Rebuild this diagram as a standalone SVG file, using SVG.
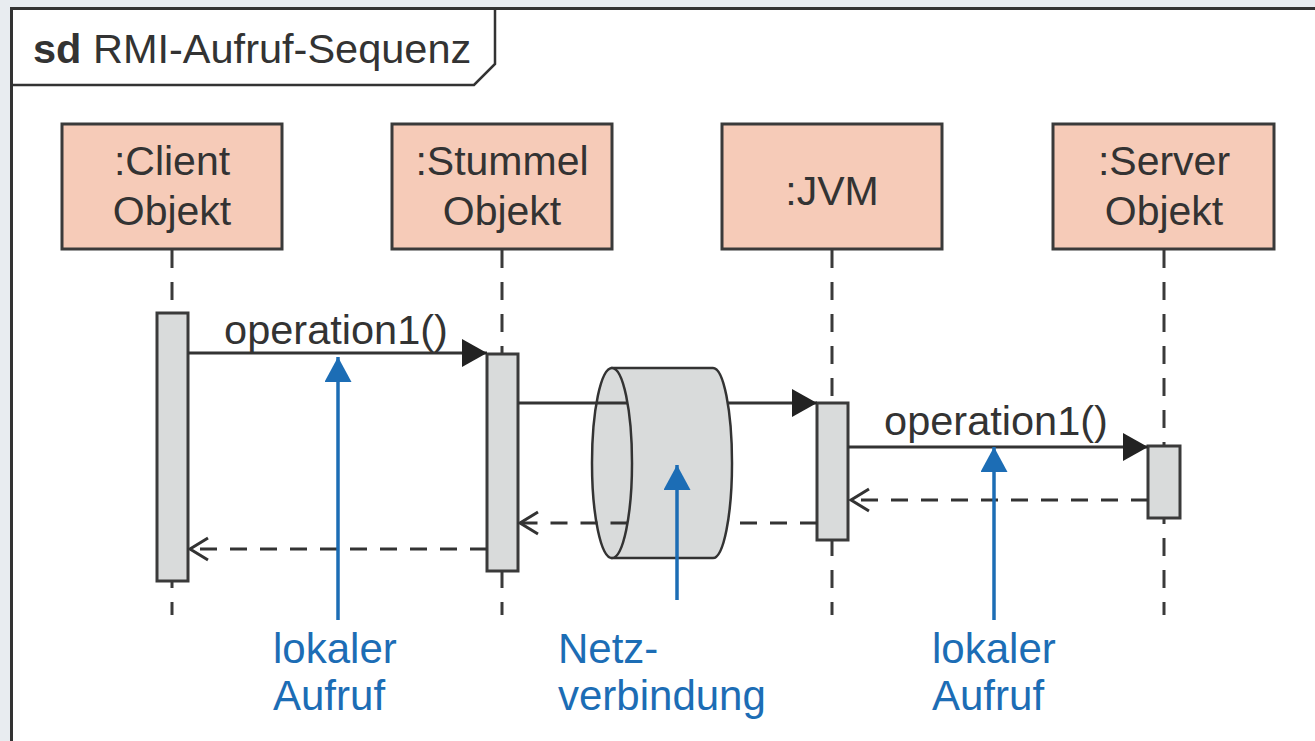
<svg xmlns="http://www.w3.org/2000/svg" width="1315" height="741" viewBox="0 0 1315 741">
  <style>
    .txt { font-family: "Liberation Sans", Arial, sans-serif; fill: #333; }
    .head { fill: #f6cbb8; stroke: #3a3a3a; stroke-width: 3; }
    .act { fill: #d9dbdb; stroke: #3a3a3a; stroke-width: 3; }
    .life { stroke: #3a3a3a; stroke-width: 3; stroke-dasharray: 18 14; fill: none; }
    .msg { stroke: #333; stroke-width: 2.8; fill: none; }
    .ret { stroke: #333; stroke-width: 2.8; fill: none; stroke-dasharray: 17 13; }
    .note { stroke: #1c6db5; stroke-width: 3.5; fill: none; }
    .blue { font-family: "Liberation Sans", Arial, sans-serif; fill: #1c6db5; font-size: 42px; }
  </style>
  <defs>
    <marker id="filled" markerUnits="userSpaceOnUse" markerWidth="26" markerHeight="30" refX="25" refY="14" orient="auto">
      <path d="M0,0 L25,14 L0,28 Z" fill="#222"/>
    </marker>
    <marker id="open" markerUnits="userSpaceOnUse" markerWidth="24" markerHeight="28" refX="19" refY="13" orient="auto">
      <path d="M1,2 L19,13 L1,24" fill="none" stroke="#333" stroke-width="3"/>
    </marker>
    <marker id="bluehead" markerUnits="userSpaceOnUse" markerWidth="28" markerHeight="28" refX="25" refY="13.5" orient="auto">
      <path d="M0,0 L25,13.5 L0,27 Z" fill="#1c6db5"/>
    </marker>
  </defs>

  <!-- page background and frame -->
  <rect x="0" y="0" width="1315" height="741" fill="#e8ecf0"/>
  <rect x="11.5" y="8.5" width="1320" height="745" fill="#ffffff" stroke="#333" stroke-width="3"/>
  <g id="frame-label">
    <path d="M11.5,85 L474,85 L495,64 L495,8.5" fill="none" stroke="#333" stroke-width="2.5"/>
    <text class="txt" x="33" y="63" font-size="41.5"><tspan font-weight="bold">sd</tspan> RMI-Aufruf-Sequenz</text>
  </g>

  <!-- lifelines -->
  <g id="lifelines">
    <line class="life" x1="172" y1="250" x2="172" y2="615"/>
    <line class="life" x1="502" y1="250" x2="502" y2="615"/>
    <line class="life" x1="832" y1="250" x2="832" y2="615"/>
    <line class="life" x1="1164" y1="250" x2="1164" y2="615"/>
  </g>

  <g id="client">
    <rect class="head" x="62" y="124" width="220" height="125"/>
    <text class="txt" x="172" y="175" font-size="41" text-anchor="middle">:Client</text>
    <text class="txt" x="172" y="225" font-size="41" text-anchor="middle">Objekt</text>
    <rect class="act" x="157" y="313" width="31" height="268"/>
  </g>
  <g id="stummel">
    <rect class="head" x="392" y="124" width="220" height="125"/>
    <text class="txt" x="502" y="175" font-size="41" text-anchor="middle">:Stummel</text>
    <text class="txt" x="502" y="225" font-size="41" text-anchor="middle">Objekt</text>
    <rect class="act" x="487" y="354" width="31" height="217"/>
  </g>
  <g id="jvm">
    <rect class="head" x="722" y="124" width="220" height="125"/>
    <text class="txt" x="832" y="205" font-size="41" text-anchor="middle">:JVM</text>
    <rect class="act" x="817" y="403" width="31" height="137"/>
  </g>
  <g id="server">
    <rect class="head" x="1053" y="124" width="221" height="125"/>
    <text class="txt" x="1164" y="175" font-size="41" text-anchor="middle">:Server</text>
    <text class="txt" x="1164" y="225" font-size="41" text-anchor="middle">Objekt</text>
    <rect class="act" x="1148" y="446" width="32" height="72"/>
  </g>

  <!-- network pipe -->
  <g id="netz">
    <path d="M612,368 L713,368 A19,95 0 0 1 713,558 L612,558 Z" fill="#d9dbdb" stroke="#333" stroke-width="2.5"/>
    <ellipse cx="612" cy="463" rx="20" ry="95" fill="#d9dbdb" stroke="#333" stroke-width="2.5"/>
  </g>

  <!-- messages -->
  <g id="connectors">
    <line class="msg" x1="188" y1="353" x2="487" y2="353" marker-end="url(#filled)"/>
    <text class="txt" x="336" y="344" font-size="41.5" text-anchor="middle">operation1()</text>

    <line class="msg" x1="518" y1="403" x2="627.5" y2="403"/>
    <line class="msg" x1="727.5" y1="403" x2="817" y2="403" marker-end="url(#filled)"/>

    <line class="msg" x1="848" y1="447" x2="1148" y2="447" marker-end="url(#filled)"/>
    <text class="txt" x="996" y="435" font-size="41.5" text-anchor="middle">operation1()</text>

    <line class="ret" x1="1148" y1="500" x2="851" y2="500" marker-end="url(#open)"/>
    <line class="ret" x1="817" y1="523" x2="727.5" y2="523"/>
    <line class="ret" x1="627.5" y1="523" x2="520" y2="523" marker-end="url(#open)"/>
    <line class="ret" x1="487" y1="549" x2="190" y2="549" marker-end="url(#open)"/>

    <!-- annotation pointers -->
    <line class="note" x1="338" y1="620" x2="338" y2="357" marker-end="url(#bluehead)"/>
    <line class="note" x1="677" y1="600" x2="677" y2="465" marker-end="url(#bluehead)"/>
    <line class="note" x1="994" y1="620" x2="994" y2="447" marker-end="url(#bluehead)"/>
  </g>

  <g id="labels">
    <text class="blue" x="273" y="663">lokaler</text>
    <text class="blue" x="273" y="710">Aufruf</text>
    <text class="blue" x="558" y="663">Netz-</text>
    <text class="blue" x="558" y="710">verbindung</text>
    <text class="blue" x="932" y="663">lokaler</text>
    <text class="blue" x="932" y="710">Aufruf</text>
  </g>
</svg>
